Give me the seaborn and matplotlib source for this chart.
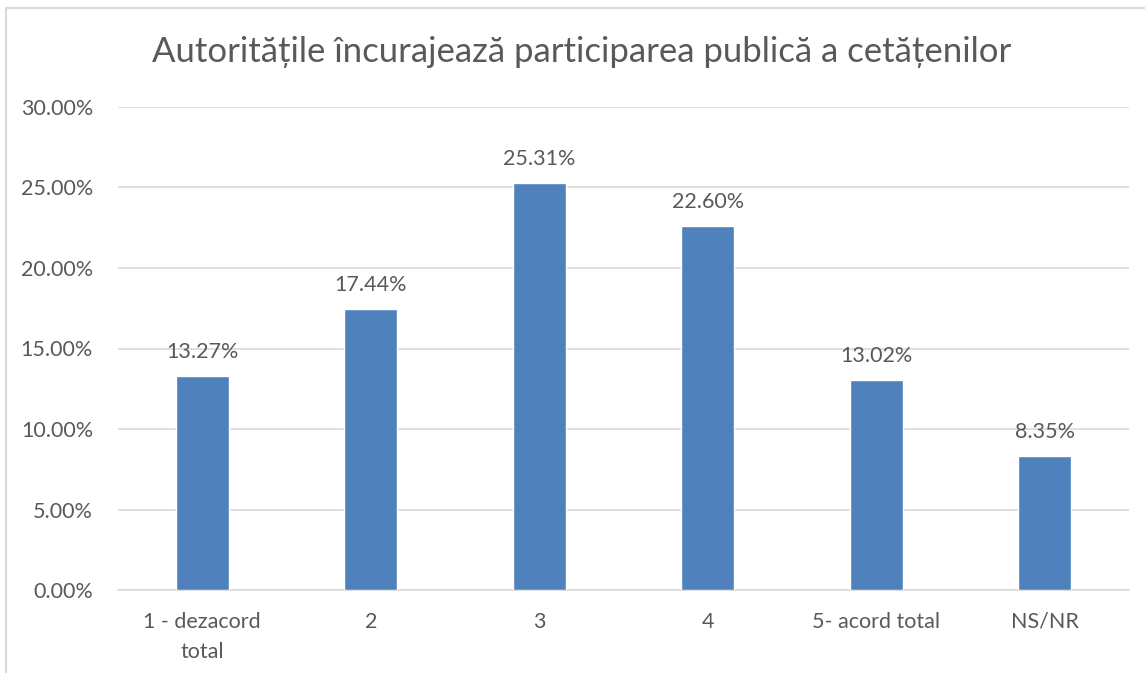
import matplotlib
matplotlib.use("Agg")
import matplotlib.pyplot as plt
from matplotlib.patches import Rectangle
from matplotlib.ticker import FuncFormatter, MultipleLocator
import seaborn as sns
import pandas as pd

categories = ["1 - dezacord\ntotal", "2", "3", "4", "5- acord total", "NS/NR"]
values = [13.27, 17.44, 25.31, 22.60, 13.02, 8.35]
title = "Autoritățile încurajează participarea publică a cetățenilor"

sns.set_theme(style="white")
plt.rcParams["font.family"] = ["Lato", "DejaVu Sans"]

text_color = "#595959"
grid_color = "#D9D9D9"
bar_color = "#4F81BD"
label_size = 15.5

df = pd.DataFrame({"cat": categories, "val": values})

fig = plt.figure(figsize=(11.45, 6.73), dpi=100)
ax = fig.add_axes([118 / 1145, 1 - 590 / 673, (1129 - 118) / 1145, (590 - 107) / 673])

sns.barplot(data=df, x="cat", y="val", color=bar_color, width=0.315,
            saturation=1, ax=ax, zorder=3)

ax.set_ylim(0, 30)
ax.yaxis.set_major_locator(MultipleLocator(5))
ax.yaxis.set_major_formatter(FuncFormatter(lambda v, _: f"{v:.2f}%"))
ax.grid(axis="y", color=grid_color, linewidth=1.2, zorder=0)
ax.grid(axis="x", visible=False)
for s in ["top", "right", "left"]:
    ax.spines[s].set_visible(False)
ax.spines["bottom"].set_color(grid_color)
ax.spines["bottom"].set_linewidth(1.2)
ax.set_xlabel("")
ax.set_ylabel("")
ax.tick_params(axis="both", length=0, labelsize=label_size, colors=text_color)
ax.tick_params(axis="x", pad=15.5)
ax.tick_params(axis="y", pad=18)
for lbl in ax.get_xticklabels():
    lbl.set_linespacing(1.65)
ax.set_xlim(-0.5, len(categories) - 0.5)

for i, v in enumerate(values):
    ax.annotate(f"{v:.2f}%", (i, v), xytext=(0, 10), textcoords="offset points",
                ha="center", va="bottom", fontsize=label_size,
                color=text_color, zorder=4)

fig.text(582 / 1145, 1 - 52 / 673, title, ha="center", va="center",
         fontsize=25, color=text_color)

# outer chart frame (extends past the right and bottom edges)
fig.patches.append(Rectangle((6 / 1145, -0.1), 1.2, 1.1 - 8 / 673,
                             transform=fig.transFigure, fill=False,
                             edgecolor="#D9D9D9", linewidth=1.5))

fig.savefig("out.png", dpi=100, facecolor="white")
